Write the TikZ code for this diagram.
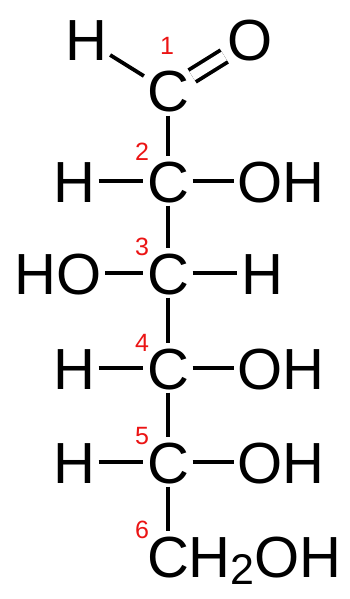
\documentclass[tikz,border=0pt]{standalone}
\usepackage{fontspec}
\setmainfont{Liberation Sans}
\definecolor{numred}{RGB}{235,20,20}
\begin{document}
\begin{tikzpicture}[x=1pt,y=-1pt,
  atom/.style={font=\fontsize{58}{60}\selectfont, text height=42pt, text depth=0pt, inner sep=0pt},
  num/.style={font=\fontsize{25}{26}\selectfont, text=numred, inner sep=0pt},
  bond/.style={line width=3.8pt, line cap=butt, shorten <=3.5pt, shorten >=3.5pt}
]
\useasboundingbox (0,0) rectangle (349,599);
% carbon chain
\node[atom] (c1) at (168,91) {C};
\node[atom] (c2) at (168,181) {C};
\node[atom] (c3) at (168,273) {C};
\node[atom] (c4) at (168,368) {C};
\node[atom] (c5) at (168,462) {C};
\node[atom] (c6) at (168,556) {C};
% substituents
\node[atom] (h1) at (86,40) {H};
\node[atom] (o1) at (250,40) {O};
\node[atom] (h2) at (74,181) {H};
\node[atom] (oh2) at (281,181) {OH};
\node[atom] (ho3) at (58,273) {HO};
\node[atom] (h3) at (262,273) {H};
\node[atom] (h4) at (74,368) {H};
\node[atom] (oh4) at (281,368) {OH};
\node[atom] (h5) at (74,462) {H};
\node[atom] (oh5) at (281,462) {OH};
\node[atom, anchor=base west] (h6) at ([xshift=-1pt]c6.base east) {H\raisebox{-7pt}{\fontsize{43}{44}\selectfont 2}OH};
% numbers
\node[num] (n1) at (167,46) {1};
\node[num] (n2) at (142,152) {2};
\node[num] (n3) at (142,247) {3};
\node[num] (n4) at (142,343) {4};
\node[num] (n5) at (142,436) {5};
\node[num] (n6) at (142,530) {6};
% bonds
\draw[bond] (c1) -- (c2);
\draw[bond] (c2) -- (c3);
\draw[bond] (c3) -- (c4);
\draw[bond] (c4) -- (c5);
\draw[bond] (c5) -- (c6);
\draw[bond] (h1) -- (c1);
\draw[bond, double, double distance=10pt] (c1) -- (o1);
\draw[bond] (h2) -- (c2);
\draw[bond] (c2) -- (oh2);
\draw[bond] (ho3) -- (c3);
\draw[bond] (c3) -- (h3);
\draw[bond] (h4) -- (c4);
\draw[bond] (c4) -- (oh4);
\draw[bond] (h5) -- (c5);
\draw[bond] (c5) -- (oh5);
\end{tikzpicture}
\end{document}
